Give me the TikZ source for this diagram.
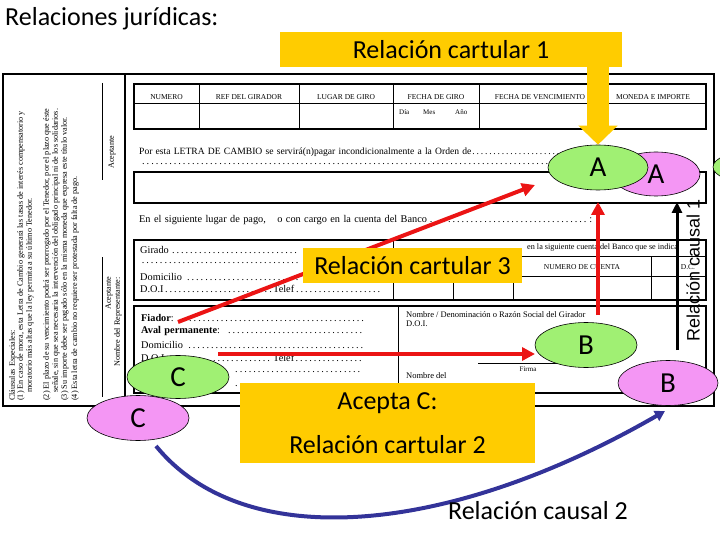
\documentclass[tikz,border=0pt]{standalone}
\usepackage{fontspec}
\setmainfont{Liberation Serif}
\newfontfamily\calib{Carlito}
\newfontfamily\arialf{Liberation Sans}
\usetikzlibrary{shapes.geometric,arrows.meta,positioning}
\definecolor{yelc}{RGB}{255,204,0}
\definecolor{grnc}{RGB}{160,240,115}
\definecolor{pnkc}{RGB}{244,150,244}
\definecolor{navyc}{RGB}{51,51,153}
\definecolor{redc}{RGB}{235,20,20}

\begin{document}
\begin{tikzpicture}[x=1pt,y=-1pt,
        frm/.style={line width=1.6pt},
        thin/.style={line width=1pt},
        txt/.style={anchor=west, inner sep=0pt, font=\fontsize{10.3}{11}\selectfont},
        small/.style={anchor=west, inner sep=0pt, font=\fontsize{7}{8}\selectfont},
        mid/.style={anchor=west, inner sep=0pt, font=\fontsize{8.5}{9}\selectfont},
        hdr/.style={inner sep=0pt, font=\fontsize{7.5}{8}\selectfont},
        side/.style={rotate=90, anchor=west, inner sep=0pt, font=\fontsize{8.2}{9}\selectfont},
        yelbox/.style={fill=yelc, inner sep=0pt, font=\calib\fontsize{26}{30}\selectfont},
        greenell/.style={ellipse, draw, fill=grnc, line width=0.6pt, inner sep=0pt, font=\calib\fontsize{29}{32}\selectfont},
        pinkell/.style={greenell, fill=pnkc},
        redarr/.style={draw=redc, line width=4pt, -{Triangle[length=13pt,width=13pt]}},
        blkarr/.style={draw=black, line width=3pt, -{Triangle[length=11pt,width=10pt]}},
        yelarr/.style={draw=yelc, line width=22pt, -{Triangle[length=19pt,width=38pt]}},
        curvarr/.style={draw=navyc, line width=4pt, -{Triangle[length=10pt,width=11pt]}},
    ]
    \useasboundingbox (0,0) rectangle (720,540);
    \node[anchor=west, inner sep=0pt, font=\calib\fontsize{26}{30}\selectfont] (title) at (5,19) {Relaciones jurídicas:};

    % la letra de cambio
    \draw[frm] (3,74) rectangle (714,406);
    \draw[frm] (125,74) -- (125,406);
    \draw[thin] (102,83) -- (102,180);
    \draw[thin] (102,257) -- (102,397);
    \node[side, anchor=center] (acep1) at (112,152) {Aceptante};
    \node[side, anchor=center] (acep2) at (109,293) {Aceptante};
    \node[side, anchor=center] (repre) at (118,322) {Nombre del Representante:};
    \foreach \sx/\stext [count=\k] in {13/{Cláusulas Especiales:},
            21/{(1) En caso de mora, esta Letra de Cambio generará las tasas de interés compensatorio y},
            30/{\hspace{8pt}moratorio más altas que la ley permita a su último Tenedor.},
            47/{(2) El plazo de su vencimiento podrá ser prorrogado por el Tenedor, por el plazo que éste},
            56/{\hspace{8pt}señale, sin que sea necesaria la intervención del obligado principal ni de los solidarios.},
            65/{(3) Su importe debe ser pagado sólo en la misma moneda que expresa este título valor.},
            75/{(4) Esta letra de cambio no requiere ser protestada por falta de pago.}}
        \node[side] (cl\k) at (\sx,401) {\stext};

    \draw[frm] (134,84) rectangle (706,129);
    \draw[thin] (134,104) -- (706,104);
    \foreach \cx in {199,299,393,479,600}
        \draw[thin] (\cx,84) -- (\cx,129);
    \foreach \cx/\lab [count=\i] in {166.5/NUMERO, 249/REF DEL GIRADOR, 346/LUGAR DE GIRO,
            436/FECHA DE GIRO, 540/FECHA DE VENCIMIENTO, 653/MONEDA E IMPORTE}
        \node[hdr] (hdr\i) at (\cx,97) {\lab};
    \node[small] (dia) at (399,112) {Día};
    \node[small] (mes) at (423,112) {Mes};
    \node[small] (anio) at (455,112) {Año};

    \node[txt, text width=421pt, font=\fontsize{9.6}{11}\selectfont] (orden) at (139,152) {Por esta LETRA DE CAMBIO se servirá(n)pagar incondicionalmente a la Orden de\dotfill};
    \node[txt, text width=421pt] (orden2) at (139,164) {\mbox{}\dotfill};
    \draw[frm] (134,172) rectangle (706,203);
    \node[txt, text width=453pt] (lugar) at (139,220) {En el siguiente lugar de pago,\hspace{8pt} o con cargo en la cuenta del Banco\dotfill:};

    \draw[frm] (134,240) rectangle (706,300);
    \draw[thin] (393,240) -- (393,300);
    \draw[thin] (393,256) -- (706,256);
    \draw[thin] (393,276) -- (706,276);
    \foreach \cx in {453,513}
        \draw[thin] (\cx,276) -- (\cx,300);
    \draw[thin] (651,256) -- (651,300);
    \node[txt, text width=160pt] (girado) at (140,250) {Girado\dotfill};
    \node[txt, text width=160pt] (girado2) at (140,263) {\mbox{}\dotfill};
    \node[txt, text width=160pt] (domic) at (140,277) {Domicilio \dotfill};
    \node[txt, text width=242pt] (doi) at (140,289) {\makebox[133pt][l]{D.O.I\dotfill}Telef\dotfill};
    \node[mid, font=\fontsize{8.2}{9}\selectfont] (cuenta) at (527,248) {en la siguiente cuenta del Banco que se indica};
    \node[hdr] (numcta) at (582,267) {NUMERO DE CUENTA};
    \node[hdr] (dc) at (688,267) {D.C.};

    \draw[frm] (134,306) rectangle (706,393);
    \draw[thin] (398,306) -- (398,393);
    \node[txt, text width=224pt] (fiador) at (141,318) {\textbf{Fiador}: \dotfill};
    \node[txt, text width=224pt] (aval) at (141,331) {\textbf{Aval permanente}: \dotfill};
    \node[txt, text width=224pt] (domic2) at (141,345) {Domicilio \dotfill};
    \node[txt, text width=222pt] (doi2) at (141,358) {\makebox[132pt][l]{D.O.I\dotfill}Telef\dotfill};
    \node[txt, text width=131pt] (fia5) at (232,372) {\mbox{}\dotfill};
    \node[txt, text width=131pt] (fia6) at (232,386) {\mbox{}\dotfill};
    \node[mid] (nomgir) at (406,315) {Nombre / Denominación o Razón Social del Girador};
    \node[mid] (doigir) at (406,324) {D.O.I.};
    \coordinate (firmal) at (478,363);
    \coordinate (firmar) at (578,363);
    \draw[line width=0.6pt] (firmal) -- (firmar);
    \node[small, anchor=center] (firma) at (528,369) {Firma};
    \node[mid] (nomrep) at (406,376) {Nombre del};

    \node[rotate=90, inner sep=0pt, font=\arialf\fontsize{18}{20}\selectfont] (causal1) at (693,270) {Relación causal 1};

    % flechas
    \coordinate (rc1s) at (178,322);
    \coordinate (rc1e) at (535,185);
    \draw[redarr] (rc1s) -- (rc1e);
    \node[yelbox, minimum width=219pt, minimum height=35pt] (relcart3) at (412.5,265.5) {Relación cartular 3};
    \coordinate (rc2s) at (218,354);
    \coordinate (rc2e) at (535,354);
    \draw[redarr] (rc2s) -- (rc2e);
    \coordinate (bas) at (598,315);
    \coordinate (bae) at (598,202);
    \draw[redarr] (bas) -- (bae);
    \coordinate (cs1s) at (677,350);
    \coordinate (cs1e) at (677,202);
    \draw[blkarr] (cs1s) -- (cs1e);

    \node[yelbox, minimum width=342pt, minimum height=35pt] (relcart1) at (451,49.5) {Relación cartular 1};

    \node[pinkell, minimum width=88pt, minimum height=44pt] (Apink) at (656,174) {A};
    \node[greenell, minimum width=100pt, minimum height=45pt] (Agreen) at (598,167.5) {A};
    \node[greenell, minimum width=80pt, minimum height=32pt] (Aextra) at (753,167) {};
    \draw[yelarr] (relcart1.south -| Agreen.north) -- (Agreen.north);
    \node[greenell, minimum width=102pt, minimum height=45pt] (Bgreen) at (586,345) {B};
    \node[pinkell, minimum width=100pt, minimum height=45pt] (Bpink) at (668,383) {B};
    \node[pinkell, minimum width=102pt, minimum height=45pt] (Cpink) at (138,418) {C};
    \node[greenell, minimum width=102pt, minimum height=43pt] (Cgreen) at (178,377) {C};

    \node[yelbox, minimum width=295pt, minimum height=80pt, align=center] (relcart2) at (387.5,423) {Acepta C:\\[14pt]Relación cartular 2};

    \coordinate (c2s) at (156,446);
    \coordinate (c2e) at (665,411);
    \draw[curvarr] (c2s) .. controls (245,555) and (450,535) .. (c2e);
    \node[inner sep=0pt, font=\calib\fontsize{26}{30}\selectfont] (causal2) at (538,511) {Relación causal 2};
\end{tikzpicture}
\end{document}
